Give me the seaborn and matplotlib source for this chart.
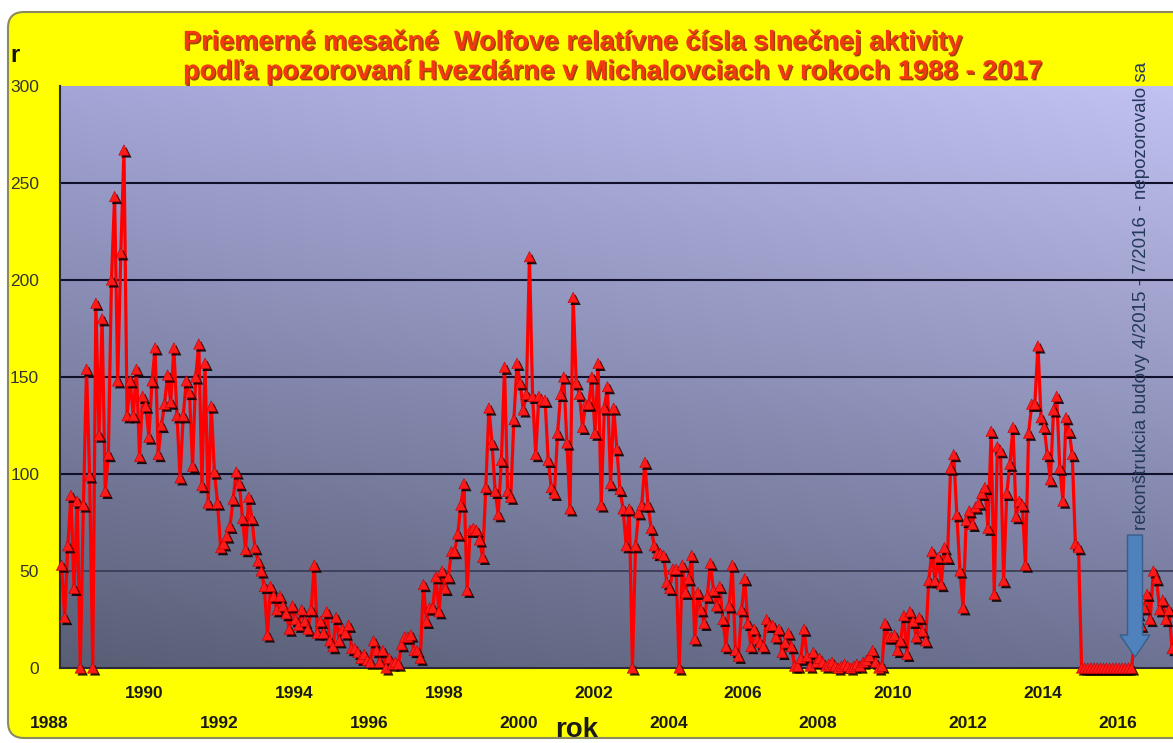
import numpy as np
import pandas as pd
import matplotlib
matplotlib.use("Agg")
import matplotlib.pyplot as plt
import seaborn as sns
import matplotlib.patheffects as pe
from matplotlib.patches import FancyBboxPatch, FancyArrow
from matplotlib.transforms import IdentityTransform

# ---------------- data: monthly Wolf numbers -------------
r_1988 = [53, 26, 63, 89, 41, 86, 0, 84, 154, 99, 0, 188]
r_1989 = [120, 180, 91, 110, 200, 243, 148, 214, 267, 130, 148, 130]
r_1990 = [154, 109, 140, 135, 119, 148, 165, 110, 125, 136, 151, 137]
r_1991 = [165, 130, 98, 130, 148, 142, 104, 150, 167, 94, 157, 85]
r_1992 = [135, 101, 85, 62, 64, 68, 73, 87, 101, 95, 77, 61]
r_1993 = [88, 77, 62, 55, 50, 42, 17, 42, 37, 30, 37, 32]
r_1994 = [28, 20, 32, 25, 22, 30, 24, 20, 30, 53, 18, 24]
r_1995 = [18, 29, 14, 11, 26, 14, 20, 18, 22, 10, 10, 8]
r_1996 = [5, 7, 4, 3, 14, 9, 3, 9, 0, 5, 2, 3]
r_1997 = [2, 12, 16, 16, 17, 9, 9, 5, 43, 24, 31, 31]
r_1998 = [47, 29, 50, 41, 47, 60, 60, 69, 84, 95, 40, 71]
r_1999 = [72, 71, 66, 57, 93, 134, 116, 91, 79, 107, 155, 91]
r_2000 = [88, 128, 157, 147, 133, 141, 212, 140, 110, 140, 138, 138]
r_2001 = [107, 93, 90, 121, 141, 150, 116, 82, 191, 147, 141, 124]
r_2002 = [136, 136, 150, 121, 157, 84, 134, 145, 95, 134, 113, 92]
r_2003 = [82, 63, 82, 0, 63, 80, 84, 106, 84, 72, 63, 59]
r_2004 = [59, 58, 44, 41, 51, 51, 0, 53, 39, 46, 58, 15]
r_2005 = [39, 30, 23, 37, 54, 40, 32, 42, 25, 11, 32, 53]
r_2006 = [9, 6, 30, 46, 23, 11, 20, 15, 13, 11, 25, 22]
r_2007 = [22, 16, 20, 8, 13, 18, 11, 1, 1, 5, 20, 6]
r_2008 = [1, 8, 3, 5, 3, 1, 2, 3, 1, 0, 1, 2]
r_2009 = [1, 0, 1, 2, 1, 3, 4, 6, 9, 3, 0, 1]
r_2010 = [23, 16, 16, 17, 9, 14, 27, 7, 29, 24, 16, 26]
r_2011 = [19, 14, 45, 60, 45, 57, 43, 62, 57, 103, 110, 79]
r_2012 = [50, 31, 76, 81, 74, 83, 85, 90, 93, 72, 122, 38]
r_2013 = [114, 112, 45, 90, 105, 124, 78, 86, 84, 53, 121, 136]
r_2014 = [136, 166, 129, 124, 110, 97, 133, 140, 103, 86, 129, 122]
r_2015 = [110, 64, 62, 0, 0, 0, 0, 0, 0, 0, 0, 0]
r_2016 = [0, 0, 0, 0, 0, 0, 0, 0, 15, 28, 22, 31]
r_2017 = [38, 25, 50, 46, 30, 35, 25, 30, 10]

year_labels = ["1988", "1990", "1992", "1994", "1996", "1998", "2000", "2002",
               "2004", "2006", "2008", "2010", "2012", "2014", "2016"]
y_ticks = [0, 50, 100, 150, 200, 250, 300]

title_1 = "Priemerné mesačné  Wolfove relatívne čísla slnečnej aktivity"
title_2 = "podľa pozorovaní Hvezdárne v Michalovciach v rokoch 1988 - 2017"
note = "rekonštrukcia budovy 4/2015 - 7/2016 - nepozorovalo sa"

all_years = [r_1988, r_1989, r_1990, r_1991, r_1992, r_1993, r_1994, r_1995,
             r_1996, r_1997, r_1998, r_1999, r_2000, r_2001, r_2002, r_2003,
             r_2004, r_2005, r_2006, r_2007, r_2008, r_2009, r_2010, r_2011,
             r_2012, r_2013, r_2014, r_2015, r_2016, r_2017]
values = [v for yr in all_years for v in yr]
df = pd.DataFrame({"mesiac": np.arange(len(values)), "r": values})

# ---------------- figure ----------------
sns.set_style("white")
plt.rcParams["font.family"] = ["Liberation Sans", "DejaVu Sans"]

W, H = 1173, 743
fig = plt.figure(figsize=(W / 100, H / 100), dpi=100, facecolor="white")

frame = FancyBboxPatch((8, 5), 1250, 726, boxstyle="round,pad=0,rounding_size=16",
                       transform=IdentityTransform(), fc="#ffff00", ec="#8a8a5a",
                       lw=1.5, zorder=-10)
fig.add_artist(frame)

ax = fig.add_axes([60 / W, (H - 668) / H, 1123 / W, 582 / H])

# gradient plot-area background
ny, nx = 256, 64
t = np.linspace(0, 1, ny)[:, None, None]
s = np.linspace(0, 1, nx)[None, :, None]
top_l = np.array([0.64, 0.65, 0.84]); top_r = np.array([0.76, 0.76, 0.95])
bot_l = np.array([0.35, 0.37, 0.46]); bot_r = np.array([0.43, 0.45, 0.58])
img = (1 - t) * ((1 - s) * top_l + s * top_r) + t * ((1 - s) * bot_l + s * bot_r)
ax.imshow(img, extent=[0, 1, 0, 1], transform=ax.transAxes, aspect="auto", zorder=0)

# horizontal grid lines
for g in y_ticks[2:-1]:
    ax.axhline(g, color="#10102a", lw=1.5, zorder=1)
ax.axhline(y_ticks[1], color="#3c3e58", lw=1.3, zorder=1)

sns.lineplot(data=df, x="mesiac", y="r", ax=ax, color="#ff0000", lw=2.3,
             estimator=None, zorder=3, clip_on=False)
sns.scatterplot(data=df, x="mesiac", y="r", ax=ax, marker="^", s=56,
                color="#ff1a1a", edgecolor="#c00000", linewidth=0.4, zorder=4,
                clip_on=False,
                path_effects=[pe.SimplePatchShadow(offset=(1.7, -1.7), shadow_rgbFace="#100000", alpha=0.9),
                              pe.Normal()])

ax.set_xlim(-0.5, 359.5)
ax.set_ylim(0, 300)
ax.set_xlabel("")
ax.set_ylabel("")

ax.set_yticks(y_ticks)
ax.set_yticklabels([str(v) for v in y_ticks], fontsize=12.5, color="#333333")
ax.tick_params(axis="y", direction="out", length=5, width=1.2, color="#333333", pad=10)
ax.set_xticks(np.arange(11.5, 360, 12))
ax.set_xticklabels([])
ax.tick_params(axis="x", direction="in", length=6, width=1.2, color="#222233")

for side in ["top", "right"]:
    ax.spines[side].set_visible(False)
for side in ["left", "bottom"]:
    ax.spines[side].set_color("#2a2a3a")
    ax.spines[side].set_linewidth(1.5)

# staggered year labels
xt = ax.get_xaxis_transform()
for lab in year_labels:
    yr = int(lab)
    k = (yr - 1988) // 2
    pos = (yr - 1988) * 12 + 2.5 if yr > 1988 else -4
    yy = -0.043 if k % 2 == 1 else -0.096
    ax.text(pos, yy, lab, transform=xt, ha="center", va="center", fontsize=12.5,
            fontweight="bold", color="#1a1a1a", clip_on=False)
ax.text(165, -0.106, "rok", transform=xt, ha="center", va="center", fontsize=20,
        fontweight="bold", color="#1a1a1a", clip_on=False)

fig.text(15 / W, 1 - 55 / H, "r", ha="center", va="center", fontsize=17,
         fontweight="bold", color="#111111")

shadow = [pe.SimplePatchShadow(offset=(1.0, -1.0), shadow_rgbFace="#7a1a00", alpha=0.8), pe.Normal()]
fig.text(183 / W, 1 - 42 / H, title_1, ha="left", va="center", fontsize=19.5,
         fontweight="bold", color="#f43810", path_effects=shadow)
fig.text(183 / W, 1 - 72 / H, title_2, ha="left", va="center", fontsize=19.5,
         fontweight="bold", color="#f43810", path_effects=shadow)

# reconstruction note and arrow
ax.text(346.3, 71, note, rotation=90, ha="center", va="bottom", fontsize=13.5,
        color="#24395a", clip_on=False, zorder=6)
arrow = FancyArrow(1135, 208, 0, -122, width=15, head_width=30, head_length=22,
                   length_includes_head=True, transform=IdentityTransform(),
                   fc="#4f81bd", ec="#385d8a", lw=1, zorder=5)
fig.add_artist(arrow)

fig.savefig("out.png", dpi=100, facecolor=fig.get_facecolor())
